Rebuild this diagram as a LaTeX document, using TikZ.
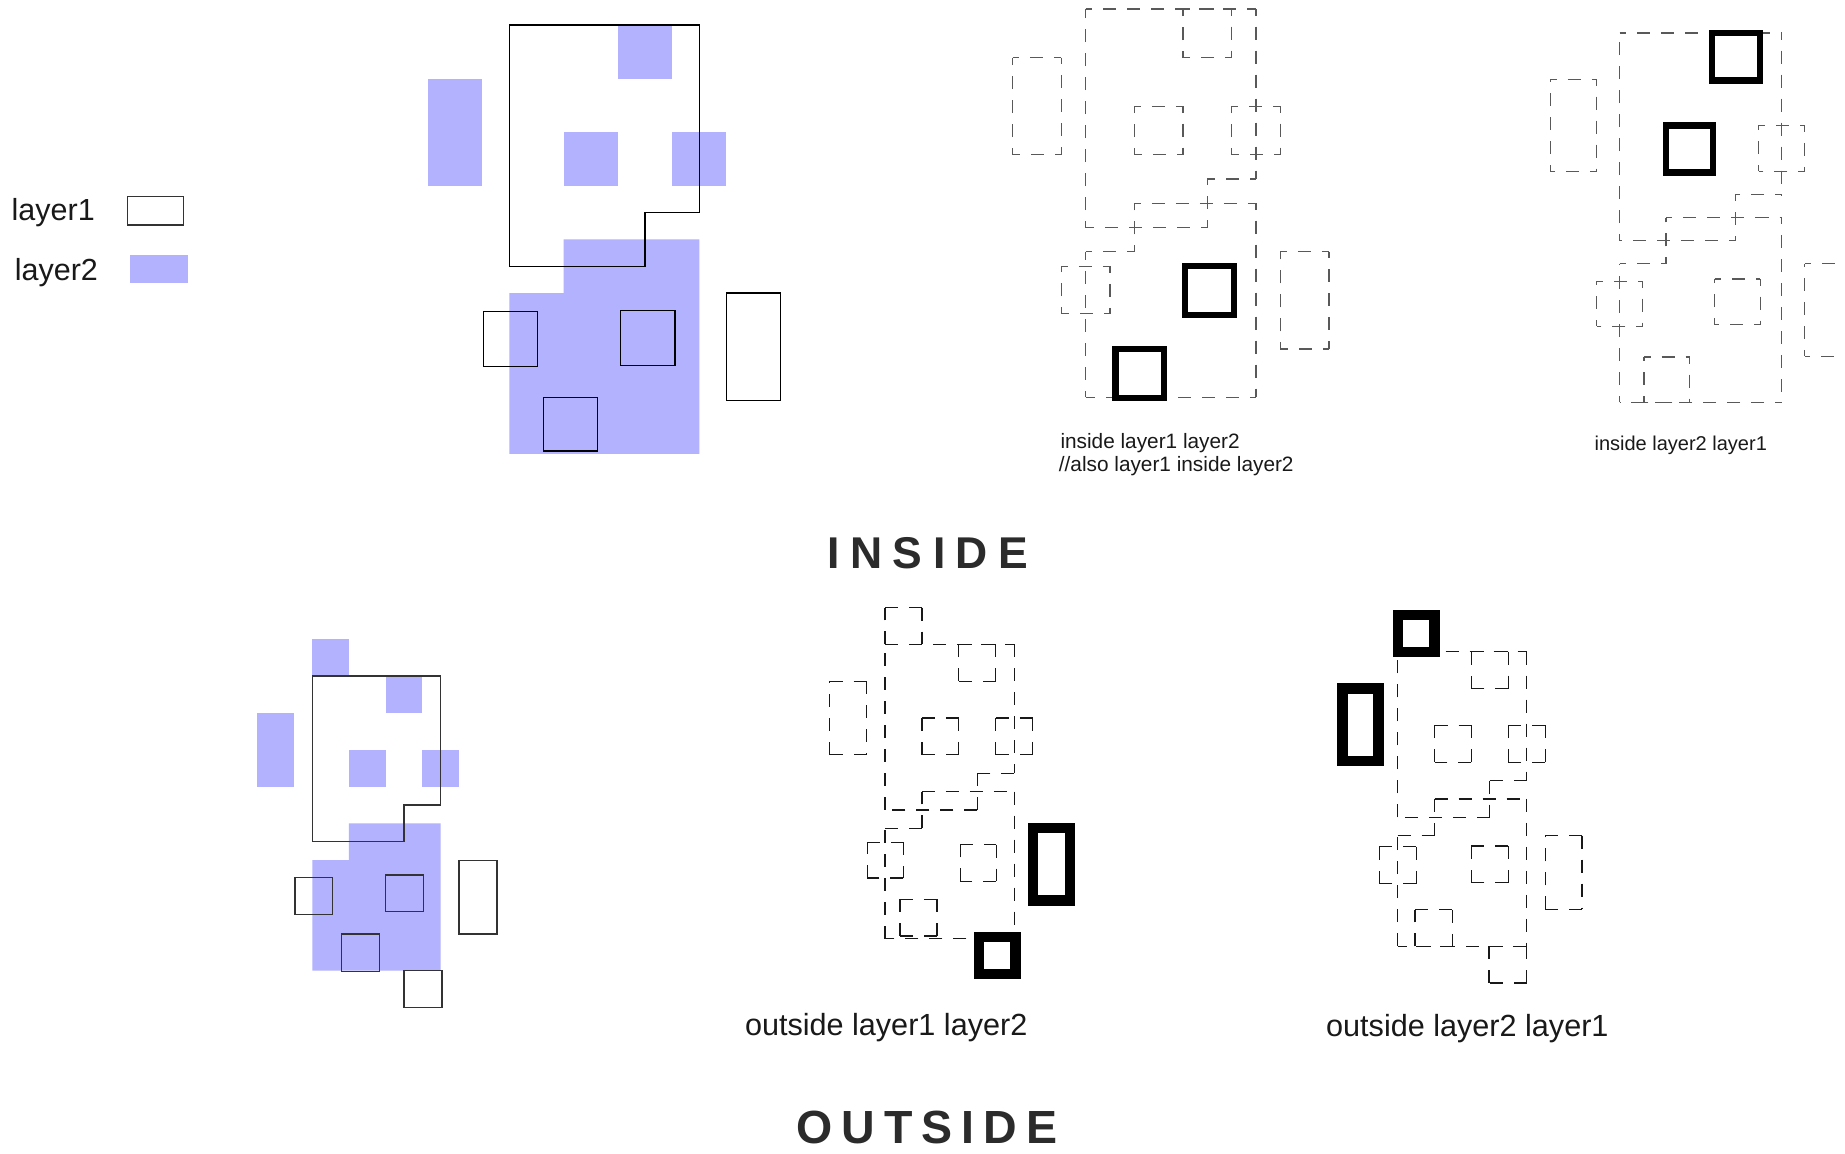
\documentclass[tikz,border=0pt]{standalone}
\usepackage{fontspec}
\setmainfont{Liberation Sans}
\tikzset{
    lay1/.style = {draw=black, line width=1.3pt},
    lay2/.style = {fill=blue!30},
    ghost/.style = {draw=black!65, line width=1.2pt, dash pattern=on 13pt off 11pt, dash phase=6.5pt},
    ghostdark/.style = {draw=black!90, line width=1.2pt, dash pattern=on 13pt off 11pt},
    hit/.style = {draw=black, line width=6.4pt},
    hitdark/.style = {draw=black, line width=10.3pt},
    caption/.style = {anchor=base west, inner sep=0pt, text=black!90},
    title/.style = {anchor=base west, inner sep=0pt, text=black!83, font=\bfseries}
}
% dashed outlines: one side at a time, so each side starts its own dash
\newcommand\gbox[5]{\draw[#1] (#2,#3)--(#4,#3) (#4,#3)--(#4,#5) (#4,#5)--(#2,#5) (#2,#5)--(#2,#3);}
\newcommand\gpolyone[1]{\draw[#1] (0,0)--(7,0) (7,0)--(7,7) (7,7)--(5,7) (5,7)--(5,9) (5,9)--(0,9) (0,9)--(0,0);}
\newcommand\gpolytwo[1]{\draw[#1] (2,8)--(7,8) (7,8)--(7,16) (7,16)--(0,16) (0,16)--(0,10) (0,10)--(2,10) (2,10)--(2,8);}

\begin{document}
\begin{tikzpicture}[x=1pt, y=-1pt]
\path[fill=white] (0,0) rectangle (1845,1154);
\useasboundingbox (0,0) rectangle (1845,1154);

% legend
\node (leg1) [caption, font=\fontsize{30.5}{36}\selectfont] at (11.5,220) {layer1};
\node (leg2) [caption, font=\fontsize{30.5}{36}\selectfont] at (14.7,280) {layer2};
\draw[draw=black!80, line width=1.5pt] (127.7,196.7) rectangle (183.3,225);
\fill[lay2] (130,255) rectangle (187.7,283.3);

% layers, top
\begin{scope}[shift={(509.3,25)}, x=27.14pt, y=-26.8pt]
  \fill[lay2] (4,0) rectangle (6,2);
  \fill[lay2] (-3,2) rectangle (-1,6);
  \fill[lay2] (2,4) rectangle (4,6);
  \fill[lay2] (6,4) rectangle (8,6);
  \fill[lay2] (2,8) -- (7,8) -- (7,16) -- (0,16) -- (0,10) -- (2,10) -- cycle;
  \draw[lay1] (0,0) -- (7,0) -- (7,7) -- (5,7) -- (5,9) -- (0,9) -- cycle;
  \draw[lay1] (-0.95,10.7) rectangle (1.05,12.75);
  \draw[lay1] (4.1,10.65) rectangle (6.1,12.7);
  \draw[lay1] (1.25,13.9) rectangle (3.25,15.9);
  \draw[lay1] (8,10) rectangle (10,14);
\end{scope}

% inside layer1 layer2
\begin{scope}[shift={(1085.7,9)}, x=24.33pt, y=-24.28pt]
  \gpolyone{ghost}
  \gpolytwo{ghost}
  \gbox{ghost}{4}{0}{6}{2}
  \gbox{ghost}{-3}{2}{-1}{6}
  \gbox{ghost}{2}{4}{4}{6}
  \gbox{ghost}{6}{4}{8}{6}
  \gbox{ghost}{-1}{10.6}{1}{12.55}
  \gbox{ghost}{8}{10}{10}{14}
  \draw[hit] (4.07,10.58) rectangle (6.1,12.6);
  \draw[hit] (1.23,14) rectangle (3.22,16.02);
\end{scope}
\node (capin1) [caption, font=\fontsize{20.8}{23.4}\selectfont] at (1060.3,448.3) {inside layer1 layer2};
\node (capin1b) [caption, font=\fontsize{20.8}{23.4}\selectfont] at (1058.7,471.7) {//also layer1 inside layer2};

% inside layer2 layer1
\begin{scope}[shift={(1619.7,33)}, x=23.14pt, y=-23.08pt]
  \gpolyone{ghost}
  \gpolytwo{ghost}
  \gbox{ghost}{-3}{2}{-1}{6}
  \gbox{ghost}{6}{4}{8}{6}
  \gbox{ghost}{-1}{10.75}{1}{12.7}
  \gbox{ghost}{4.1}{10.66}{6.07}{12.64}
  \gbox{ghost}{1.05}{14.04}{3.03}{16}
  \gbox{ghost}{8}{10}{10}{14}
  \draw[hit] (4,0) rectangle (6.05,2.05);
  \draw[hit] (2,4) rectangle (4.04,6.05);
\end{scope}
\node (capin2) [caption, font=\fontsize{20}{23}\selectfont] at (1594.4,450) {inside layer2 layer1};

\node (tin) [title, font=\bfseries\fontsize{44.5}{50}\selectfont] at (827.2,568.3)
  {I\kern10.5pt N\kern10.5pt S\kern10.5pt I\kern10.5pt D\kern10.5pt E};

% layers, bottom
\begin{scope}[shift={(312.3,676)}, x=18.34pt, y=-18.42pt]
  \fill[lay2] (0,-2) rectangle (2,0);
  \fill[lay2] (4,0) rectangle (6,2);
  \fill[lay2] (-3,2) rectangle (-1,6);
  \fill[lay2] (2,4) rectangle (4,6);
  \fill[lay2] (6,4) rectangle (8,6);
  \fill[lay2] (2,8) -- (7,8) -- (7,16) -- (0,16) -- (0,10) -- (2,10) -- cycle;
  \draw[lay1, draw=black!80] (0,0) -- (7,0) -- (7,7) -- (5,7) -- (5,9) -- (0,9) -- cycle;
  \draw[lay1, draw=black!80] (-0.95,10.95) rectangle (1.1,12.95);
  \draw[lay1, draw=black!80] (4,10.8) rectangle (6.05,12.8);
  \draw[lay1, draw=black!80] (1.6,14) rectangle (3.65,16.05);
  \draw[lay1, draw=black!80] (8,10) rectangle (10.07,14);
  \draw[lay1, draw=black!80] (5,16) rectangle (7.07,18);
\end{scope}

% outside layer1 layer2
\begin{scope}[shift={(885,644.3)}, x=18.47pt, y=-18.4pt]
  \gpolyone{ghostdark}
  \gpolytwo{ghostdark}
  \gbox{ghostdark}{0}{-2}{2}{0}
  \gbox{ghostdark}{4}{0}{6}{2}
  \gbox{ghostdark}{-3}{2}{-1}{6}
  \gbox{ghostdark}{2}{4}{4}{6}
  \gbox{ghostdark}{6}{4}{8}{6}
  \gbox{ghostdark}{-0.95}{10.75}{1}{12.7}
  \gbox{ghostdark}{4.07}{10.88}{6.02}{12.88}
  \gbox{ghostdark}{0.81}{13.86}{2.82}{15.85}
  \draw[hitdark] (8,10) rectangle (10.03,13.93);
  \draw[hitdark] (5.09,15.9) rectangle (7.07,17.92);
\end{scope}
\node (capout1) [caption, font=\fontsize{30.6}{36}\selectfont] at (744.8,1035) {outside layer1 layer2};

% outside layer2 layer1
\begin{scope}[shift={(1397.7,651.7)}, x=18.43pt, y=-18.4pt]
  \gpolyone{ghostdark}
  \gpolytwo{ghostdark}
  \gbox{ghostdark}{4}{0}{6}{2}
  \gbox{ghostdark}{2}{4}{4}{6}
  \gbox{ghostdark}{6}{4}{8}{6}
  \gbox{ghostdark}{-1}{10.6}{1}{12.6}
  \gbox{ghostdark}{4}{10.56}{6}{12.55}
  \gbox{ghostdark}{0.94}{14.03}{2.98}{16.02}
  \gbox{ghostdark}{8}{10}{10}{14}
  \gbox{ghostdark}{4.95}{16}{7}{18}
  \draw[hitdark] (0,-2) rectangle (2,0);
  \draw[hitdark] (-3,2) rectangle (-1.05,5.95);
\end{scope}
\node (capout2) [caption, font=\fontsize{30.6}{36}\selectfont] at (1326,1036.7) {outside layer2 layer1};

\node (tout) [title, font=\bfseries\fontsize{46.5}{52}\selectfont] at (796.4,1143.3)
  {O\kern9pt U\kern9pt T\kern9pt S\kern9pt I\kern9pt D\kern9pt E};
\end{tikzpicture}
\end{document}
